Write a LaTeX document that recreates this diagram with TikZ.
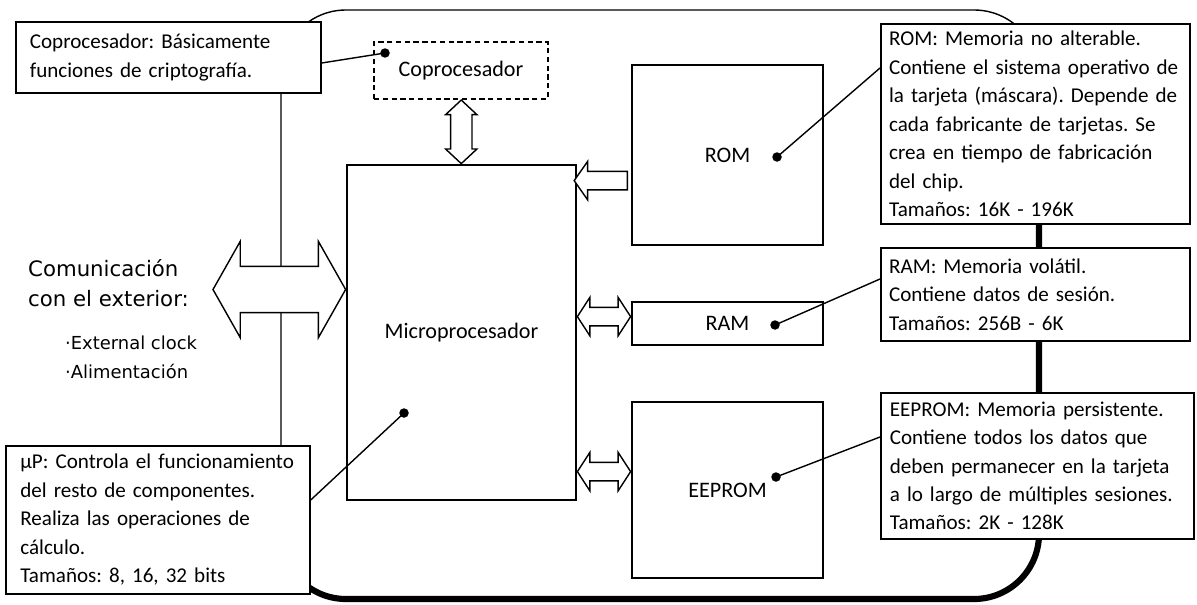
\documentclass[tikz,border=0pt]{standalone}
\usepackage{fontspec}
\setmainfont{Carlito}
\newfontfamily\commfont{DejaVu Sans}
\usetikzlibrary{shapes.arrows,calc}
\frenchspacing

\newcommand{\calloutfont}{\fontsize{12}{16.2}\selectfont}
\newcommand{\partfont}{\fontsize{12.6}{15}\selectfont}

\begin{document}
\begin{tikzpicture}[x=0.02cm,y=-0.02cm,
    block/.style={draw, line width=1.6pt, font=\partfont, inner sep=0pt},
    note/.style={draw, line width=1pt, fill=white, font=\calloutfont, align=left,
                 anchor=north west, inner xsep=0.12cm, inner ysep=0pt},
    dot/.style={circle, fill, inner sep=0pt, minimum size=0.19cm},
    lead/.style={line width=0.8pt},
    fat/.style={draw, fill=white, line width=0.8pt}]
  \useasboundingbox (0,0) rectangle (1197,605);
  % chip outline
  \draw[line width=0.8pt, rounded corners=1.3cm] (281,10) rectangle (1039,599);
  \draw[line width=3.5pt, rounded corners=1.3cm] (1039,120) -- (1039,599) -- (281,599) -- (281,540);
  % callouts
  \node[note, minimum width=6.1cm, minimum height=1.42cm, text width=5.54cm] (copnote) at (15,21)
    {Coprocesador: Básicamente\\funciones de criptografía.};
  \node[note, minimum width=6.08cm, minimum height=2.96cm, text width=5.5cm] (upnote) at (5,445)
    {µP: Controla el funcionamiento\\del resto de componentes.\\Realiza las operaciones de\\cálculo.\\Tamaños: 8, 16, 32 bits};
  \node[note, minimum width=6.18cm, minimum height=4cm, text width=5.85cm] (romnote) at (880,23)
    {ROM: Memoria no alterable.\\Contiene el sistema operativo de\\la tarjeta (máscara). Depende de\\cada fabricante de tarjetas. Se\\crea en tiempo de fabricación\\del chip.\\Tamaños: 16K - 196K};
  \node[note, minimum width=6.18cm, minimum height=1.86cm, text width=5.85cm] (ramnote) at (880,247)
    {RAM: Memoria volátil.\\Contiene datos de sesión.\\Tamaños: 256B - 6K};
  \node[note, minimum width=6.26cm, minimum height=2.92cm, text width=5.9cm] (eepnote) at (880,392)
    {EEPROM: Memoria persistente.\\Contiene todos los datos que\\deben permanecer en la tarjeta\\a lo largo de múltiples sesiones.\\Tamaños: 2K - 128K};
  % parts of the chip
  \node[block, densely dashed, line width=1.2pt, minimum width=3.48cm, minimum height=1.14cm] (copro) at (461,70.5) {Coprocesador};
  \node[block, minimum width=4.58cm, minimum height=6.7cm] (micro) at (461.5,332.5) {Microprocesador};
  \node[block, minimum width=3.82cm, minimum height=3.6cm] (rom) at (727.5,155) {ROM};
  \node[block, minimum width=3.82cm, minimum height=0.86cm] (ram) at (727.5,323.5) {RAM};
  \node[block, minimum width=3.82cm, minimum height=3.52cm] (eeprom) at (727.5,490) {EEPROM};
  % outside
  \node[font=\commfont\fontsize{12.1}{17}\selectfont, align=left, anchor=west] (comm) at (22,283)
    {Comunicación\\con el exterior:};
  \node[font=\commfont\fontsize{10.2}{16.5}\selectfont, align=left, anchor=west] (feeds) at (59,357.5)
    {·External clock\\·Alimentación};
  % buses
  \coordinate (ext) at (213,289.5);
  \coordinate (romport) at ($(rom.north west)+(0,117)$);
  \coordinate (ramport) at ($(ram.north west)+(0,16)$);
  \coordinate (eepport) at ($(eeprom.north west)+(0,71)$);
  \path let \p1=(ext), \p2=(micro.west) in
    node[fat, double arrow, inner sep=0.45cm, minimum height=\x2-\x1,
         double arrow head extend=0.5cm, double arrow tip angle=121]
    (extlink) at ($(ext)!0.5!(micro.west |- ext)$) {};
  \path let \p1=(copro.south), \p2=(micro.north) in
    node[fat, double arrow, shape border rotate=90, inner sep=0.2cm, minimum height=\y1-\y2,
         double arrow head extend=0.1cm, double arrow tip angle=94]
    (coplink) at ($(copro.south)!0.5!(micro.north)$) {};
  \path let \p1=(micro.east), \p2=(romport) in
    node[fat, single arrow, shape border rotate=180, inner sep=0.17cm, minimum height=\x2-\x1,
         single arrow head extend=0.2cm, single arrow tip angle=110]
    (romlink) at ($(micro.east |- romport)!0.5!(romport)$) {};
  \path let \p1=(micro.east), \p2=(ramport) in
    node[fat, double arrow, inner sep=0.17cm, minimum height=\x2-\x1,
         double arrow head extend=0.2cm, double arrow tip angle=114]
    (ramlink) at ($(micro.east |- ramport)!0.5!(ramport)$) {};
  \path let \p1=(micro.east), \p2=(eepport) in
    node[fat, double arrow, inner sep=0.17cm, minimum height=\x2-\x1,
         double arrow head extend=0.2cm, double arrow tip angle=114]
    (eeplink) at ($(micro.east |- eepport)!0.5!(eepport)$) {};
  % pointers
  \node[dot] (copdot) at (385,53) {};
  \node[dot] (updot) at (404,413) {};
  \node[dot] (romdot) at (777,157) {};
  \node[dot] (ramdot) at (775,325) {};
  \node[dot] (eepdot) at (776,477) {};
  \draw[lead] ($(copnote.north east)+(0,42)$) -- (copdot.center);
  \draw[lead] ($(upnote.north east)+(0,55)$) -- (updot.center);
  \draw[lead] ($(romnote.north west)+(0,45)$) -- (romdot.center);
  \draw[lead] ($(ramnote.north west)+(0,32)$) -- (ramdot.center);
  \draw[lead] ($(eepnote.north west)+(0,45)$) -- (eepdot.center);
\end{tikzpicture}
\end{document}
